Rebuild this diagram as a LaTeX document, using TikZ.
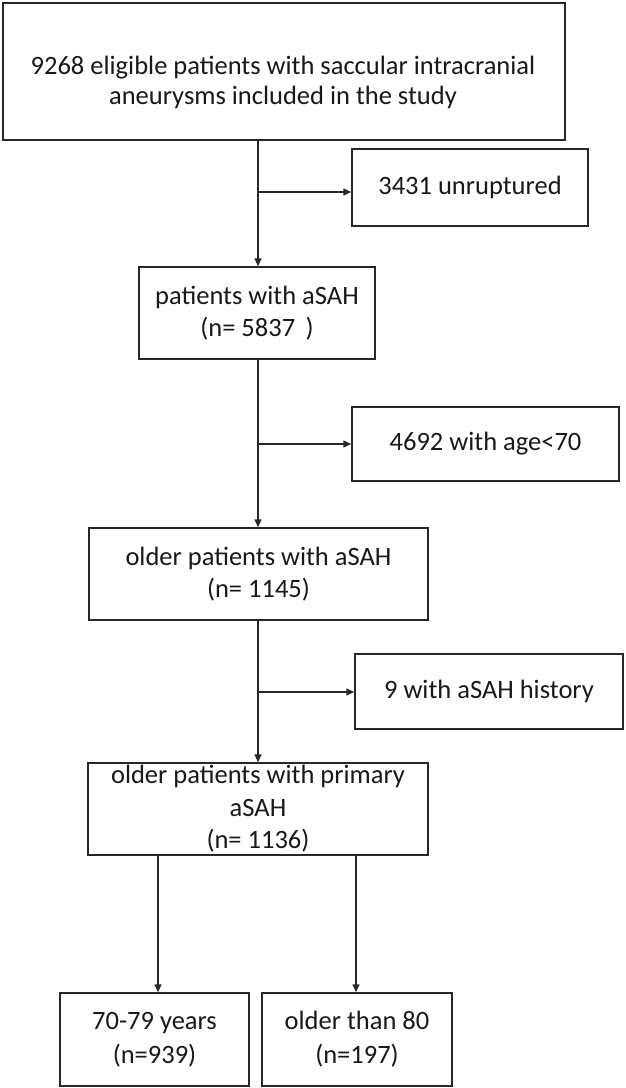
\documentclass[tikz,border=0pt]{standalone}
\usepackage{fontspec}
\setmainfont{Carlito}
\usetikzlibrary{arrows.meta}
\definecolor{ink}{RGB}{40,40,40}
\definecolor{txt}{RGB}{25,25,25}
\begin{document}
\begin{tikzpicture}[x=1pt,y=-1pt,
  box/.style={draw=ink, line width=1.5pt, inner sep=0pt, align=center, text=txt,
    font=\fontsize{26.5}{32}\selectfont},
  label/.style={inner sep=0pt, align=center, text=txt, font=\fontsize{26.5}{30}\selectfont},
  arr/.style={draw=ink, line width=1.5pt, -{Triangle[length=8pt,width=7pt]}}]
\useasboundingbox (0,0) rectangle (625,1088);
\fill[white] (0,0) rectangle (625,1088);
% boxes
\node[box, minimum width=562pt, minimum height=137pt] (b1) at (284,71.5) {};
\node[label] (t1) at (283,82) {9268 eligible patients with saccular intracranial\\aneurysms included in the study};
\node[box, minimum width=236pt, minimum height=77pt] (r1) at (470,187.5) {3431 unruptured};
\node[box, minimum width=236pt, minimum height=92pt] (b2) at (257,313) {patients with aSAH\\(n= 5837 \,)};
\node[box, minimum width=267pt, minimum height=74pt] (r2) at (485.5,444) {4692 with age<70};
\node[box, minimum width=339pt, minimum height=92pt] (b3) at (258.5,574) {older patients with aSAH\\(n= 1145)};
\node[box, minimum width=268pt, minimum height=75pt] (r3) at (489,691.5) {9 with aSAH history};
\node[box, minimum width=340pt, minimum height=92pt, font=\fontsize{26.5}{32.5}\selectfont] (b4) at (258,809) {older patients with primary\\aSAH\\(n= 1136)};
\node[box, minimum width=189pt, minimum height=93pt, font=\fontsize{26.5}{34}\selectfont] (c1) at (154.5,1039.5) {70-79 years\\(n=939)};
\node[box, minimum width=190pt, minimum height=93pt, font=\fontsize{26.5}{34}\selectfont] (c2) at (357,1039.5) {older than 80\\(n=197)};
% junctions
\coordinate (j1) at (258,192);
\coordinate (j2) at (258,444);
\coordinate (j3) at (258,692);
% connectors
\draw[arr] (b1.south -| j1) -- (b2.north -| j1);
\draw[arr] (j1) -- (j1 -| r1.west);
\draw[arr] (b2.south -| j2) -- (b3.north -| j2);
\draw[arr] (j2) -- (j2 -| r2.west);
\draw[arr] (b3.south -| j3) -- (b4.north -| j3);
\draw[arr] (j3) -- (j3 -| r3.west);
\draw[arr] (b4.south -| c1.north) ++(3.5,0) coordinate (d1) -- (d1 |- c1.north);
\draw[arr] (b4.south -| c2.north) ++(-1,0) coordinate (d2) -- (d2 |- c2.north);
\end{tikzpicture}
\end{document}
